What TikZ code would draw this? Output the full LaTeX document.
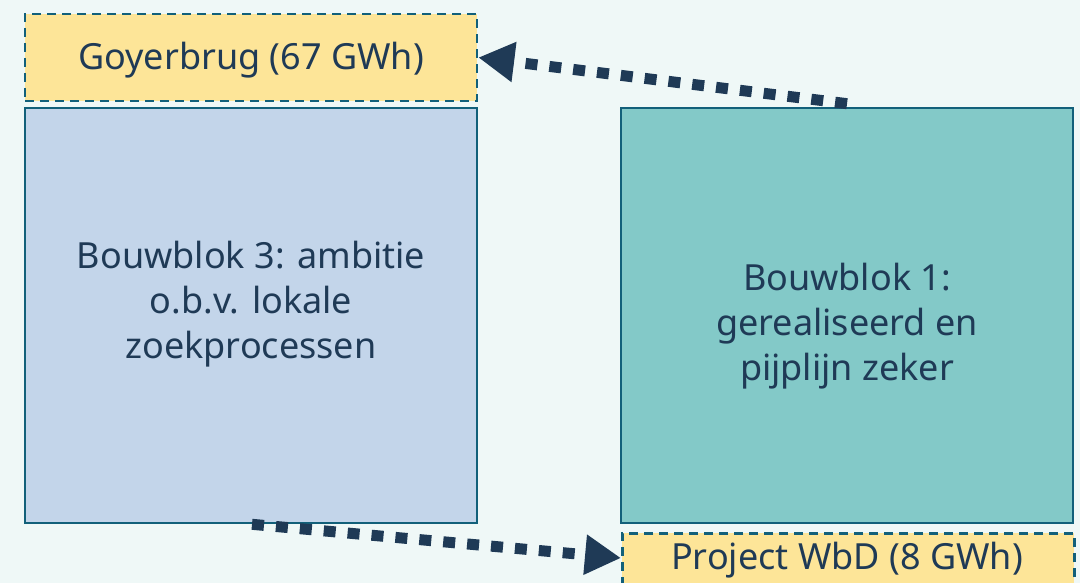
\documentclass[tikz,border=0pt]{standalone}
\usepackage{fontspec}
\setmainfont{Noto Sans}
\usetikzlibrary{arrows.meta}
\definecolor{bg}{HTML}{EFF8F7}
\definecolor{edge}{HTML}{12607A}
\definecolor{ink}{HTML}{1F3A56}
\definecolor{amber}{HTML}{FDE598}
\definecolor{sky}{HTML}{C3D5EA}
\definecolor{teal}{HTML}{83C9C8}
\tikzset{
  blockbox/.style={draw=edge, line width=2.6pt, inner sep=0pt,
    minimum width=452pt},
  tagbox/.style={blockbox, fill=amber, dash pattern=on 9pt off 6pt,
    minimum height=87pt},
  caption/.style={text=ink, align=center, font=\fontsize{36}{45}\selectfont},
  flow/.style={draw=ink, line width=11pt, dash pattern=on 12pt off 12pt,
    -{Triangle[length=36pt,width=38pt]}},
}
\begin{document}
\begin{tikzpicture}[x=1pt, y=-1pt]
  \fill[bg] (0,0) rectangle (1080,583);
  \useasboundingbox (0,0) rectangle (1080,583);
  \begin{scope}
    \clip (0,0) rectangle (1080,583);
    % tags
    \node[tagbox] (goy) at (251,57.5) {};
    \node[caption] (goytxt) at (251,60) {Goyerbrug (67 GWh)};
    \node[tagbox, anchor=north west] (wbd) at (621,532) {};
    \node[caption] (wbdtxt) at (847,560) {Project WbD (8 GWh)};
    % building blocks
    \node[blockbox, fill=sky, minimum height=415pt] (bb3) at (251,315.5) {};
    \node[caption] (bb3txt) at (251,304) {Bouwblok 3: ambitie\\o.b.v. lokale\\zoekprocessen};
    \node[blockbox, fill=teal, minimum height=415pt] (bb1) at (847,315.5) {};
    \node[caption] (bb1txt) at (847,326) {Bouwblok 1:\\gerealiseerd en\\pijplijn zeker};
  \end{scope}
  % flows between blocks and tags
  \coordinate (s1) at ([yshift=3pt]bb1.north);
  \coordinate (s2) at ([xshift=1pt]bb3.south);
  \coordinate (t2) at (wbd.west |- 0,558);
  \draw[flow] (s1) -- (goy.east);
  \draw[flow] (s2) -- (t2);
\end{tikzpicture}
\end{document}
